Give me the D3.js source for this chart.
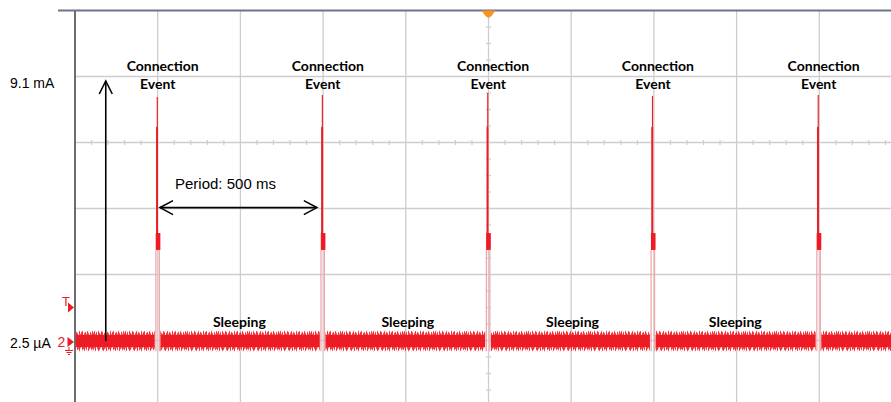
<!DOCTYPE html>
<html>
<head>
<meta charset="utf-8">
<script src="https://cdn.jsdelivr.net/npm/d3@7"></script>
<style>
  html, body { margin: 0; padding: 0; background: #fff; }
  svg { display: block; }
</style>
</head>
<body>
<svg id="chart" width="891" height="402"></svg>
<script>
// ---- data ----------------------------------------------------------
// Start time (ms) of each connection event, timebase 250 ms/div
const eventTimes = [244, 743, 1243, 1741, 2242];
// Peak current of each event (mA)
const eventPeaks = [8.54, 8.61, 8.68, 8.58, 8.61];
// Current profile of one event: offsets (ms) from its start, current range (mA)
const spikeOffsets = [[0, 14], [1, 7], [3, 6.5]];
const spikeLevels = [[3.19, 3.78], [3.19, 7.49], [7.49, null]]; // null -> event peak
const edgeOffsets = [0.5, 11];     // rising / falling edge (ms)
const edgeTop = 3.19;              // mA
// Sleep current and its display noise (mA)
const baselineCurrent = 0.0025;
const noiseCore = 0.21;
const noiseMax = 0.36;
// Text
const eventText = ["Connection", "Event"];
const sleepText = "Sleeping";
const sleepTimes = [497, 1006, 1504, 1996];
const levelLabels = ["9.1 mA", "2.5 µA"];
const levelValues = [9.1, 0.0025];
const periodText = "Period: 500 ms";
const periodSpan = [257, 731];     // ms
const periodLevel = 4.67;          // mA
const ampArrowTime = 93;           // ms
const ampArrowRange = [0.0025, 9.1];
const traceEnd = 2600;

// ---- setup -----------------------------------------------------------
const W = 891, H = 402;
const RED = "#ed1c24", PINK = "#f4a3a7", GRID = "#cdcdcd";
const svg = d3.select("#chart");
const defs = svg.append("defs");

// graticule divisions and signal scales
const gx = d3.scaleLinear().domain([0, 10]).range([75, 902]);
const gy = d3.scaleLinear().domain([0, 6]).range([10.5, 406.5]);
const x = d3.scaleLinear().domain([0, 2500]).range([75, 902]);
const y = d3.scaleLinear().domain([0.0025, 9.1]).range([341, 81]);

// ---- graticule -------------------------------------------------------
const grid = svg.append("g");
grid.selectAll("line.v").data(d3.range(1, 10)).join("line")
  .attr("x1", d => gx(d)).attr("x2", d => gx(d))
  .attr("y1", gy(0)).attr("y2", H)
  .attr("stroke", GRID).attr("stroke-width", 1.3);
grid.selectAll("line.h").data(d3.range(1, 6)).join("line")
  .attr("x1", gx(0)).attr("x2", W)
  .attr("y1", d => gy(d)).attr("y2", d => gy(d))
  .attr("stroke", GRID).attr("stroke-width", 1.3);

// minor ticks on the centre lines
const hTicks = d3.range(1, 55).map(i => i * 0.2).filter(d => Math.abs(d - Math.round(d)) > 1e-6);
grid.selectAll("line.ht").data(hTicks).join("line")
  .attr("x1", d => gx(d)).attr("x2", d => gx(d))
  .attr("y1", gy(2) - 2.5).attr("y2", gy(2) + 2.5)
  .attr("stroke", GRID).attr("stroke-width", 1.2);
const vTicks = d3.range(1, 24).map(i => i * 0.25).filter(d => Math.abs(d - Math.round(d)) > 1e-6);
grid.selectAll("line.vt").data(vTicks).join("line")
  .attr("x1", gx(5) - 2.5).attr("x2", gx(5) + 2.5)
  .attr("y1", d => gy(d)).attr("y2", d => gy(d))
  .attr("stroke", GRID).attr("stroke-width", 1.2);

// frame
svg.append("line").attr("x1", gx(0)).attr("x2", gx(0)).attr("y1", gy(0)).attr("y2", H)
  .attr("stroke", "#4a4a4a").attr("stroke-width", 1.6);
svg.append("line").attr("x1", 58).attr("x2", W).attr("y1", gy(0)).attr("y2", gy(0))
  .attr("stroke", "#6b7488").attr("stroke-width", 2.2);

// trigger position marker
svg.append("path")
  .attr("d", `M${gx(5) - 7},${gy(0)} L${gx(5) + 7},${gy(0)} L${gx(5) + 3},${gy(0) + 5.5} L${gx(5)},${gy(0) + 7.5} L${gx(5) - 3},${gy(0) + 5.5} Z`)
  .attr("fill", "#f7941d");

// ---- trace -----------------------------------------------------------
defs.append("clipPath").attr("id", "plot").append("rect")
  .attr("x", gx(0) + 0.8).attr("y", gy(0) + 1).attr("width", W).attr("height", H);

// noise texture for the edges of the sleep-current band
const whiskTop = [2,4,1,3,0,4,2,1,4,3,0,2,4,1,3,2,0,4,1,3,4,0,2,3,1,4,2,0,3,1,4];
const whiskBot = [3,1,4,0,2,4,3,1,0,3,4,2,1,4,0,3,2,4,1,0,3,2,4,1,3,0,4,2,1,3,2];
const bandTop = y(baselineCurrent + noiseMax), bandBot = y(baselineCurrent - noiseMax);
const coreTop = y(baselineCurrent + noiseCore), coreBot = y(baselineCurrent - noiseCore);
const pat = defs.append("pattern").attr("id", "noise")
  .attr("patternUnits", "userSpaceOnUse")
  .attr("x", 0).attr("y", bandTop)
  .attr("width", whiskTop.length).attr("height", bandBot - bandTop);
pat.selectAll("rect.t").data(whiskTop).join("rect")
  .attr("x", (d, i) => i).attr("width", 1)
  .attr("y", d => coreTop - bandTop - d).attr("height", d => d + 0.5)
  .attr("fill", RED).attr("opacity", 0.9);
pat.selectAll("rect.b").data(whiskBot).join("rect")
  .attr("x", (d, i) => i).attr("width", 1)
  .attr("y", coreBot - bandTop - 0.5).attr("height", d => d + 0.5)
  .attr("fill", RED).attr("opacity", 0.9);

const trace = svg.append("g").attr("clip-path", "url(#plot)");

// sleep segments between events
const segments = [];
let start = 0;
eventTimes.forEach(t => { segments.push([start, t - 3]); start = t + 14; });
segments.push([start, traceEnd]);

trace.selectAll("rect.whisk").data(segments).join("rect")
  .attr("x", d => x(d[0])).attr("width", d => x(d[1]) - x(d[0]))
  .attr("y", bandTop).attr("height", bandBot - bandTop)
  .attr("fill", "url(#noise)");
trace.selectAll("rect.core").data(segments).join("rect")
  .attr("x", d => x(d[0])).attr("width", d => x(d[1]) - x(d[0]))
  .attr("y", coreTop).attr("height", coreBot - coreTop)
  .attr("fill", RED);

// connection event spikes
const ev = trace.selectAll("g.event").data(eventTimes.map((t, i) => ({ t, peak: eventPeaks[i] })))
  .join("g");
ev.selectAll("line.edge").data(d => edgeOffsets.map(o => d.t + o)).join("line")
  .attr("x1", d => x(d)).attr("x2", d => x(d))
  .attr("y1", bandBot).attr("y2", y(edgeTop))
  .attr("stroke", PINK).attr("stroke-width", 1.2);
ev.selectAll("rect.blk").data(d => spikeOffsets.map((o, j) => ({
    t0: d.t + o[0], t1: d.t + o[1],
    lo: spikeLevels[j][0], hi: spikeLevels[j][1] === null ? d.peak : spikeLevels[j][1]
  }))).join("rect")
  .attr("x", d => x(d.t0)).attr("width", d => x(d.t1) - x(d.t0))
  .attr("y", d => y(d.hi)).attr("height", d => y(d.lo) - y(d.hi))
  .attr("fill", RED);

// ---- channel markers -------------------------------------------------
const mk = svg.append("g").attr("fill", RED);
mk.append("text").attr("x", 62).attr("y", 306)
  .attr("font-family", "Liberation Sans, Arial, sans-serif").attr("font-size", 13).text("T");
mk.append("path").attr("d", "M68,302.5 L74,307.5 L68,312.5 Z");
mk.append("text").attr("x", 57.5).attr("y", 346.5)
  .attr("font-family", "Liberation Sans, Arial, sans-serif").attr("font-size", 14).text("2");
mk.append("path").attr("d", "M67.5,337 L74,342 L67.5,347 Z");
mk.append("path").attr("d", "M69,347 V350.5 M65,350.5 H73 M66.5,352.5 H71.5 M68,354.5 H70")
  .attr("fill", "none").attr("stroke", RED).attr("stroke-width", 1);

// ---- labels and annotations ------------------------------------------
svg.selectAll("text.level").data(levelLabels).join("text")
  .attr("x", 10).attr("y", (d, i) => y(levelValues[i]) + 1.5)
  .attr("dominant-baseline", "central")
  .attr("font-family", "Liberation Sans, Arial, sans-serif").attr("font-size", 14)
  .attr("fill", "#000").text(d => d);

const lab = svg.append("g")
  .attr("font-family", "Lato, 'Open Sans', sans-serif").attr("font-weight", 700)
  .attr("font-size", 14).attr("fill", "#000").attr("text-anchor", "middle");
lab.selectAll("text.c").data(eventTimes).join("text")
  .attr("x", d => x(d) + 7).attr("y", 70.5).text(eventText[0]);
lab.selectAll("text.e").data(eventTimes).join("text")
  .attr("x", d => x(d) + 2).attr("y", 89).text(eventText[1]);
lab.selectAll("text.s").data(sleepTimes).join("text")
  .attr("x", d => x(d)).attr("y", 326.5).text(sleepText);

const arrows = svg.append("g").attr("stroke", "#000").attr("fill", "none")
  .attr("stroke-width", 1.6);
// amplitude arrow
const ax = x(ampArrowTime), ay0 = y(ampArrowRange[0]), ay1 = y(ampArrowRange[1]);
arrows.append("line").attr("x1", ax).attr("x2", ax).attr("y1", ay0).attr("y2", ay1);
arrows.append("path").attr("d", `M${ax - 6.5},${ay1 + 13} L${ax},${ay1} L${ax + 6.5},${ay1 + 13}`);
// period arrow
const px0 = x(periodSpan[0]), px1 = x(periodSpan[1]), py = y(periodLevel);
arrows.append("line").attr("x1", px0).attr("x2", px1).attr("y1", py).attr("y2", py);
arrows.append("path").attr("d", `M${px0 + 13},${py - 7} L${px0},${py} L${px0 + 13},${py + 7}`);
arrows.append("path").attr("d", `M${px1 - 13},${py - 7} L${px1},${py} L${px1 - 13},${py + 7}`);
svg.append("text").attr("x", px0 + 15).attr("y", 188.7)
  .attr("font-family", "Liberation Sans, Arial, sans-serif").attr("font-size", 15)
  .attr("fill", "#000").text(periodText);
</script>
</body>
</html>
